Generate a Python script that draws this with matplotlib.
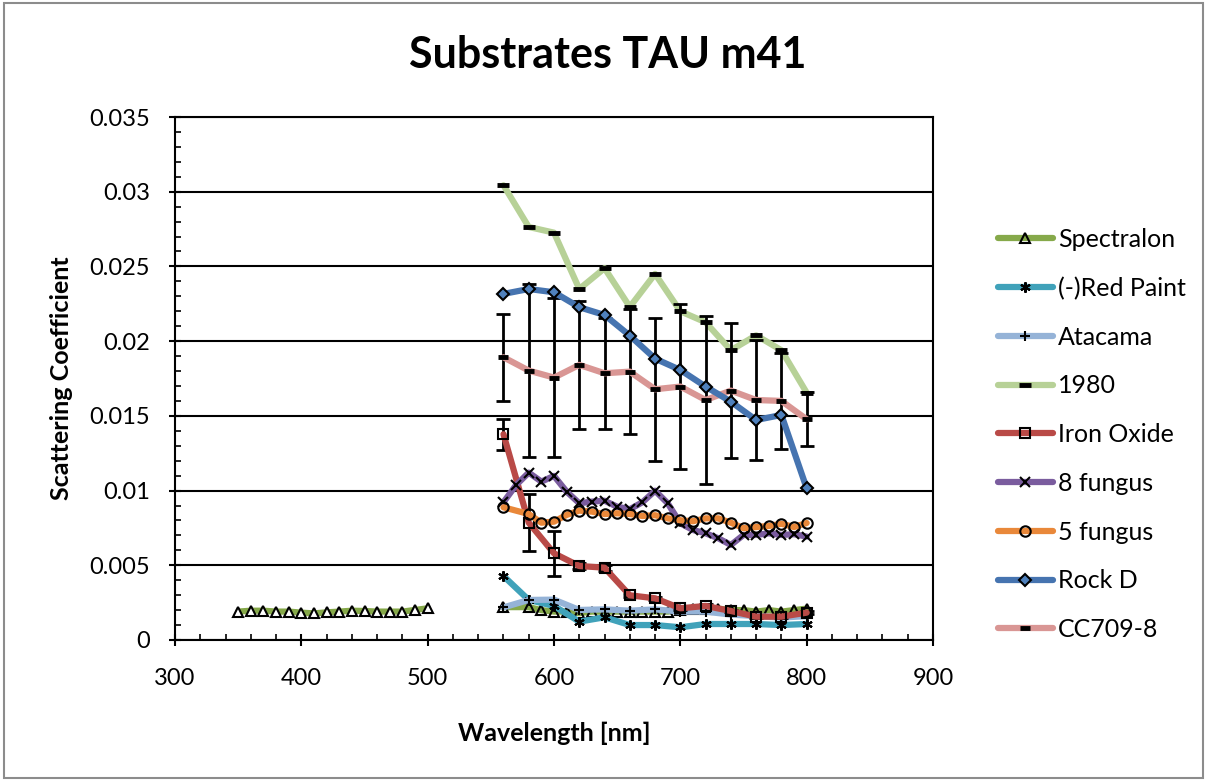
import matplotlib
matplotlib.use("Agg")
import matplotlib.pyplot as plt
from matplotlib.ticker import MultipleLocator, FuncFormatter
from matplotlib.patches import Rectangle

plt.rcParams['font.family'] = ['Lato', 'DejaVu Sans']

# ---------------- data ----------------
spec_x1 = [350, 360, 370, 380, 390, 400, 410, 420, 430, 440, 450, 460, 470, 480, 490, 500]
spec_y1 = [0.0019, 0.00196, 0.00196, 0.0019, 0.0019, 0.00183, 0.00178, 0.00185, 0.0019, 0.00196,
           0.00194, 0.0019, 0.0019, 0.0019, 0.00201, 0.00212]
spec_x2 = [560, 580, 590, 600, 610, 620, 630, 640, 650, 660, 670, 680, 690, 700, 710, 720,
           730, 740, 750, 760, 770, 780, 790, 800]
spec_y2 = [0.0022, 0.0022, 0.0020, 0.0019, 0.0019, 0.0018, 0.0019, 0.0019, 0.0019, 0.0019,
           0.0019, 0.0019, 0.0019, 0.0020, 0.0021, 0.0021, 0.0021, 0.0020, 0.0020, 0.0019,
           0.0020, 0.0019, 0.0020, 0.0021]

wl20 = [560, 580, 600, 620, 640, 660, 680, 700, 720, 740, 760, 780, 800]
red_paint = [0.00428, 0.00268, 0.00228, 0.00123, 0.00152, 0.0010, 0.0010, 0.00085, 0.00107,
             0.00107, 0.00107, 0.0010, 0.00107]
atacama = [0.00218, 0.00268, 0.00270, 0.00201, 0.00205, 0.00196, 0.00205, 0.0019, 0.0019,
           0.0017, 0.0016, 0.0015, 0.0016]
y1980 = [0.03043, 0.02764, 0.02726, 0.02349, 0.02488, 0.02229, 0.02450, 0.0220, 0.02126,
         0.01939, 0.02039, 0.01939, 0.01655]
iron_oxide = [0.01377, 0.00785, 0.0058, 0.00495, 0.00484, 0.00299, 0.00279, 0.00212, 0.00228,
              0.00194, 0.00156, 0.00156, 0.00183]
iron_err = [0.00105, 0.0019, 0.0015, 0.0002, 0.0002, 0.0001, 0.0001, 0.0001, 0.0001, 0.0001,
            0.0001, 0.0001, 0.0001]

wl10 = [560, 570, 580, 590, 600, 610, 620, 630, 640, 650, 660, 670, 680, 690, 700, 710, 720,
        730, 740, 750, 760, 770, 780, 790, 800]
fungus8 = [0.00922, 0.01037, 0.0112, 0.0106, 0.01098, 0.00993, 0.00915, 0.00926, 0.00932,
           0.00892, 0.00875, 0.00922, 0.00999, 0.00915, 0.00781, 0.00736, 0.00714, 0.00681,
           0.00636, 0.00703, 0.00703, 0.00714, 0.00703, 0.00708, 0.00692]
wl5f = [560, 580, 590, 600, 610, 620, 630, 640, 650, 660, 670, 680, 690, 700, 710, 720,
        730, 740, 750, 760, 770, 780, 790, 800]
fungus5 = [0.00888, 0.00843, 0.00785, 0.00792, 0.00837, 0.00866, 0.00859, 0.00843, 0.00848,
           0.00843, 0.0083, 0.00835, 0.00814, 0.00801, 0.00795, 0.00814, 0.00814, 0.00785,
           0.00748, 0.00756, 0.00763, 0.00778, 0.00756, 0.00783]
rock_d = [0.02316, 0.02349, 0.02327, 0.02227, 0.02175, 0.02037, 0.01883, 0.01807, 0.01696,
          0.01595, 0.01472, 0.01506, 0.01015]
cc709 = [0.01892, 0.01803, 0.01756, 0.01841, 0.01785, 0.01796, 0.01678, 0.01696, 0.01606,
         0.01669, 0.01606, 0.0160, 0.01477]
cc709_err = [0.0029, 0.0058, 0.0053, 0.0043, 0.0037, 0.0042, 0.0048, 0.0055, 0.0056, 0.0045,
             0.0040, 0.0032, 0.0018]

# ---------------- figure ----------------
fig = plt.figure(figsize=(12.07, 7.80), dpi=100)
fig.patch.set_facecolor('white')
fig.add_artist(Rectangle((0.003, 0.003), 0.994, 0.993, transform=fig.transFigure,
                         fill=False, edgecolor='#8c8c8c', linewidth=1.5))
ax = fig.add_axes([0.145, 0.1795, 0.628, 0.6705])

lw = 4.5
ms = 7.5
common = dict(linewidth=lw, markersize=ms, markeredgecolor='black', markeredgewidth=1.5,
              solid_joinstyle='round', solid_capstyle='round')
dash = dict(linewidth=lw, markersize=9, markeredgecolor='black', markeredgewidth=3.5,
            solid_joinstyle='round', solid_capstyle='round')
ebar = dict(fmt='none', ecolor='black', elinewidth=2, capsize=5, capthick=2)

# Spectralon (two segments, one legend entry)
ax.plot(spec_x1, spec_y1, color='#86A94A', marker='^', markerfacecolor='white', zorder=3, **common)
ax.plot(spec_x2, spec_y2, color='#86A94A', marker='^', markerfacecolor='none', zorder=3,
        label='Spectralon', **common)
ax.plot(wl20, red_paint, color='#40A2BA', marker=(6, 2, 0), zorder=4, label='(-)Red Paint', **common)
ax.plot(wl20, atacama, color='#95B3D7', marker='+', zorder=5, label='Atacama', **common)
ax.plot(wl20, y1980, color='#B7D197', marker='_', zorder=6, label='1980', **dash)
ax.errorbar(wl20, iron_oxide, yerr=iron_err, zorder=7, **ebar)
ax.plot(wl20, iron_oxide, color='#B94A47', marker='s', markerfacecolor='none', zorder=7,
        label='Iron Oxide', **common)
ax.plot(wl10, fungus8, color='#7A5C9E', marker='x', zorder=8, label='8 fungus', **common)
ax.plot(wl5f, fungus5, color='#E9883A', marker='o', markerfacecolor='none', zorder=9,
        label='5 fungus', **common)
ax.plot(wl20, rock_d, color='#4674B0', marker='D', markerfacecolor='#4F81BD', zorder=11,
        label='Rock D', linewidth=lw, markersize=6.5, markeredgecolor='black', markeredgewidth=1.5,
        solid_joinstyle='round', solid_capstyle='round')
ax.errorbar(wl20, cc709, yerr=cc709_err, zorder=10, **ebar)
ax.plot(wl20, cc709, color='#D99694', marker='_', zorder=10, label='CC709-8',
        linewidth=lw, markersize=7, markeredgecolor='black', markeredgewidth=3.5,
        solid_joinstyle='round', solid_capstyle='round')

# ---------------- axes ----------------
ax.set_xlim(300, 900)
ax.set_ylim(0, 0.035)
ax.xaxis.set_major_locator(MultipleLocator(100))
ax.xaxis.set_minor_locator(MultipleLocator(20))
ax.yaxis.set_major_locator(MultipleLocator(0.005))
ax.yaxis.set_minor_locator(MultipleLocator(0.001))
ax.yaxis.set_major_formatter(FuncFormatter(lambda v, p: ('%.3f' % v).rstrip('0').rstrip('.') if v != 0 else '0'))
ax.tick_params(axis='both', which='major', direction='inout', length=8, width=1.5,
               labelsize=17, color='black')
ax.tick_params(axis='x', which='major', pad=16)
ax.tick_params(axis='y', which='major', pad=14)
ax.tick_params(axis='both', which='minor', direction='in', length=4, width=1.2)
ax.grid(axis='y', which='major', color='black', linewidth=1.5, zorder=0)
ax.set_axisbelow(True)
for s in ax.spines.values():
    s.set_linewidth(1.5)
    s.set_color('black')

ax.set_xlabel('Wavelength [nm]', fontsize=18, fontweight='bold', labelpad=24)
ax.set_ylabel('Scattering Coefficient', fontsize=18, fontweight='bold', labelpad=12)
fig.text(0.5035, 0.929, 'Substrates TAU m41', ha='center', va='center', fontsize=31,
         fontweight='bold')

handles, labels = ax.get_legend_handles_labels()
leg = fig.legend(handles, labels, loc='center left', bbox_to_anchor=(0.808, 0.443),
                 frameon=False, fontsize=18, handlelength=2.2, labelspacing=1.03,
                 handletextpad=0.2)

fig.savefig('out.png', dpi=100, facecolor='white')
